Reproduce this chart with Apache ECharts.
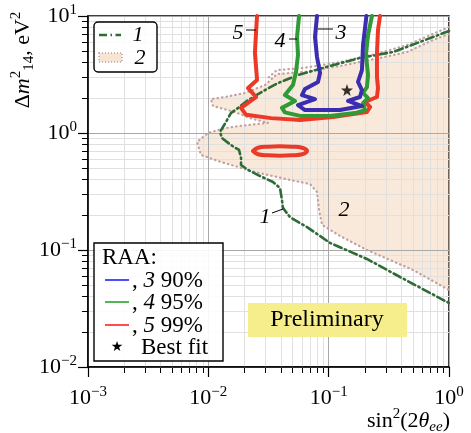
<!DOCTYPE html>
<html><head><meta charset="utf-8">
<script src="https://cdn.jsdelivr.net/npm/echarts@6/dist/echarts.min.js"></script>
<style>html,body{margin:0;padding:0;background:#fff}#c{width:471px;height:433px}</style>
</head><body><div id="c"></div>
<script>
// ---- axis ticks ----
const xMajor = [0.001, 0.01, 0.1, 1];
const yMajor = [0.01, 0.1, 1, 10];
const xMinor = [0.002,0.003,0.004,0.005,0.006,0.007,0.008,0.009,0.02,0.03,0.04,0.05,0.06,0.07,0.08,0.09,0.2,0.3,0.4,0.5,0.6,0.7,0.8,0.9];
const yMinor = [0.02,0.03,0.04,0.05,0.06,0.07,0.08,0.09,0.2,0.3,0.4,0.5,0.6,0.7,0.8,0.9,2,3,4,5,6,7,8,9];

// ---- data: [sin^2(2theta_ee), dm^2_14] ----
const curve1 = [[1.0,7.44],[0.736,6.61],[0.343,4.92],[0.182,4.38],[0.1026,3.74],[0.0556,3.13],[0.0379,2.67],[0.0296,2.33],[0.0214,1.91],[0.0177,1.64],[0.0154,1.48],[0.0140,1.24],[0.01324,1.125],[0.0125,1.02],[0.0130,0.906],[0.0154,0.789],[0.0180,0.716],[0.0187,0.611],[0.0187,0.533],[0.0214,0.483],[0.0259,0.437],[0.0345,0.381],[0.0394,0.339],[0.0409,0.268],[0.0417,0.229],[0.0477,0.191],[0.0578,0.170],[0.0661,0.157],[0.1026,0.115],[0.208,0.0838],[0.392,0.0588],[1.0,0.0352]];
const region2 = [[1.0,7.02],[0.736,6.23],[0.448,4.92],[0.267,4.38],[0.124,3.74],[0.0613,3.32],[0.0372,3.19],[0.0296,2.57],[0.0202,2.20],[0.01375,2.03],[0.01052,1.95],[0.01094,1.70],[0.01666,1.51],[0.0222,1.34],[0.0313,1.22],[0.0183,1.15],[0.01375,1.10],[0.00994,1.0],[0.00805,0.838],[0.00869,0.649],[0.01274,0.565],[0.0244,0.464],[0.0477,0.397],[0.0700,0.366],[0.080,0.313],[0.0832,0.220],[0.0881,0.164],[0.124,0.132],[0.208,0.1],[0.502,0.0675],[1.0,0.0455]];
const region2Upper = [[1.0,8.05],[0.736,7.02],[0.448,5.65],[0.267,4.83],[0.124,4.04],[0.0613,3.59],[0.0372,3.45],[0.0313,2.95]];
const raa99 = [[0.0254,10],[0.0249,7.16],[0.0244,4.83],[0.0254,2.84],[0.0214,2.42],[0.0249,2.03],[0.0187,1.64],[0.0206,1.43],[0.0332,1.34],[0.0578,1.29],[0.1086,1.37],[0.208,1.51],[0.221,1.67],[0.2004,1.84],[0.252,2.03],[0.257,2.42],[0.252,3.01],[0.252,4.83],[0.257,7.59],[0.267,10]];
const raa99Island = [[0.0235,0.702],[0.0259,0.748],[0.0313,0.764],[0.0394,0.771],[0.0496,0.764],[0.0600,0.748],[0.0661,0.702],[0.0600,0.658],[0.0496,0.645],[0.0394,0.639],[0.0313,0.645],[0.0259,0.658],[0.0235,0.702]];
const raa95 = [[0.0567,10],[0.0546,6.61],[0.0556,4.64],[0.0535,3.32],[0.0505,2.57],[0.0433,2.11],[0.0525,1.88],[0.0409,1.64],[0.0433,1.50],[0.0578,1.40],[0.1026,1.40],[0.1656,1.48],[0.2004,1.57],[0.193,1.80],[0.2124,1.99],[0.193,2.20],[0.208,2.47],[0.2124,3.13],[0.204,4.64],[0.2124,6.88],[0.229,10]];
const raa90 = [[0.080,10],[0.0770,6.61],[0.080,4.46],[0.0848,3.26],[0.0815,2.73],[0.0636,2.38],[0.0600,2.11],[0.0770,1.95],[0.0556,1.73],[0.0636,1.57],[0.124,1.57],[0.189,1.70],[0.145,1.88],[0.182,2.03],[0.189,2.33],[0.1754,2.73],[0.189,3.45],[0.193,5.65],[0.206,10]];
const bestFit = [[0.142, 2.33]];

// ---- styles ----
const SERIF = '"Liberation Serif", "DejaVu Serif", serif';
const C_DASHDOT = '#2f6b35';
const C_DOT = '#c2a0a0';
const C_BLUE = '#3a2db0', C_GREEN = '#2f9a36', C_RED = '#ec3a28';
function F(size, italic) { return (italic ? 'italic ' : '') + size + 'px ' + SERIF; }

const richTick = {
  b: {fontFamily: SERIF, fontSize: 22, color: '#000', lineHeight: 26},
  s: {fontFamily: SERIF, fontSize: 15, color: '#000', lineHeight: 15, verticalAlign: 'top'}
};
function powFmt(v) {
  const e = Math.round(Math.log10(v));
  return '{b|10}{s|' + (e < 0 ? '\u2212' + (-e) : e) + '}';
}
const axLine = {show: true, lineStyle: {color: '#000', width: 1.5}};

function mainAxis(min, max, margin) {
  return {
    type: 'log', logBase: 10, min: min, max: max,
    axisLine: axLine,
    axisTick: {show: true, length: 10, lineStyle: {color: '#000', width: 1.2}},
    axisLabel: {formatter: powFmt, rich: richTick, margin: margin},
    splitLine: {show: true, lineStyle: {color: '#a8a8a8', width: 1}},
    z: 3
  };
}
function minorAxis(min, max, vals, pos) {
  return {
    type: 'log', logBase: 10, min: min, max: max, position: pos,
    axisLine: {show: false},
    axisTick: {show: true, length: 6, customValues: vals, lineStyle: {color: '#000', width: 1}},
    axisLabel: {show: false},
    splitLine: {show: true, lineStyle: {color: '#e0e0e0', width: 1}},
    z: 2
  };
}

const xa = mainAxis(0.001, 1, 18); xa.position = 'bottom';
const ya = mainAxis(0.01, 10, 11); ya.position = 'left';

function lineSeries(data, color, width, dash, z) {
  return {type: 'line', data: data, showSymbol: false, symbol: 'none', z: z, silent: true,
    lineStyle: {color: color, width: width, type: dash || 'solid', cap: 'round', join: 'round'}};
}
function txt(x, y, s, size, italic, align, z) {
  return {type: 'text', x: x, y: y, z: z || 21, style: {text: s, font: F(size, italic), fill: '#000', align: align || 'center', verticalAlign: 'middle'}};
}
function richTxt(x, y, s, rich, align, z, rot) {
  const e = {type: 'text', x: x, y: y, z: z || 23, style: {text: s, rich: rich, font: F(22), fill: '#000', align: align, verticalAlign: 'middle'}};
  if (rot) e.rotation = rot;
  return e;
}
const legRich = {n: {font: F(23)}, i: {font: F(23, true)}};
const titleRich = {
  r: {font: F(22), lineHeight: 28}, i: {font: F(22, true), lineHeight: 28},
  sp: {font: F(15), lineHeight: 16, verticalAlign: 'top'},
  sb: {font: F(15), lineHeight: 16, verticalAlign: 'bottom'},
  sbi: {font: F(15, true), lineHeight: 16, verticalAlign: 'bottom'}
};

const option = {
  animation: false,
  grid: {left: 88, right: 22, top: 16, bottom: 66, show: true, borderColor: '#000', borderWidth: 1.5, backgroundColor: 'transparent'},
  xAxis: [xa, minorAxis(0.001, 1, xMinor, 'bottom')],
  yAxis: [ya, minorAxis(0.01, 10, yMinor, 'left')],
  series: [
    {type: 'custom', coordinateSystem: 'cartesian2d', data: region2, clip: true, z: 1, silent: true,
      encode: {x: 0, y: 1},
      renderItem: function (params, api) {
        if (params.dataIndex !== 0) return;
        const pts = region2.map(function (p) { return api.coord(p); });
        return {type: 'polygon', shape: {points: pts}, style: {fill: 'rgba(236,182,132,0.30)'}};
      }},
    lineSeries(region2, C_DOT, 2.2, [0.5, 4], 4),
    lineSeries(region2Upper, C_DOT, 2.2, [0.5, 4], 4),
    lineSeries(curve1, C_DASHDOT, 2.6, [8, 3.5, 1.5, 3.5], 5),
    lineSeries(raa99, C_RED, 4, null, 6),
    Object.assign(lineSeries(raa99Island, C_RED, 4, null, 6), {smooth: 0.4}),
    lineSeries(raa95, C_GREEN, 4, null, 7),
    lineSeries(raa90, C_BLUE, 4, null, 8),
    {type: 'scatter', data: bestFit, z: 9, silent: true,
      symbol: 'path://M0,-10L2.35,-3.24L9.51,-3.09L3.8,1.24L5.88,8.09L0,4L-5.88,8.09L-3.8,1.24L-9.51,-3.09L-2.35,-3.24Z',
      symbolSize: 12, itemStyle: {color: '#000'}}
  ],
  graphic: {elements: [
    // Preliminary box
    {type: 'rect', shape: {x: 248, y: 303, width: 159, height: 34}, style: {fill: '#f6ee8c'}, z: 20},
    txt(327, 320, 'Preliminary', 24, false),
    // annotations
    txt(238, 33, '5', 22, true),
    {type: 'line', z: 21, shape: {x1: 246, y1: 30, x2: 256, y2: 30}, style: {stroke: '#000', lineWidth: 1}},
    txt(280, 41, '4', 22, true),
    {type: 'line', z: 21, shape: {x1: 289, y1: 39, x2: 297, y2: 39}, style: {stroke: '#000', lineWidth: 1}},
    txt(341, 33, '3', 22, true),
    {type: 'line', z: 21, shape: {x1: 318, y1: 29, x2: 333, y2: 29}, style: {stroke: '#000', lineWidth: 1}},
    txt(265, 217, '1', 22, true),
    {type: 'line', z: 21, shape: {x1: 272, y1: 213, x2: 283, y2: 209}, style: {stroke: '#000', lineWidth: 1}},
    txt(344, 210, '2', 22, true),
    // legend 1
    {type: 'rect', z: 22, shape: {x: 94, y: 22, width: 63, height: 50, r: 4}, style: {fill: 'rgba(255,255,255,0.85)', stroke: '#000', lineWidth: 1.4}},
    {type: 'line', z: 23, shape: {x1: 99, y1: 35, x2: 121, y2: 35}, style: {stroke: C_DASHDOT, lineWidth: 2.5, lineDash: [8, 3.5, 1.5, 3.5]}},
    txt(138, 35, '1', 22, true, 'center', 23),
    {type: 'rect', z: 23, shape: {x: 99, y: 53, width: 23, height: 9}, style: {fill: '#f7e4d2', stroke: C_DOT, lineWidth: 1.6, lineDash: [1, 2]}},
    txt(140, 58, '2', 22, true, 'center', 23),
    // legend 2
    {type: 'rect', z: 22, shape: {x: 94, y: 243, width: 129, height: 118}, style: {fill: 'rgba(255,255,255,0.9)', stroke: '#000', lineWidth: 1.4}},
    txt(102, 258, 'RAA:', 23, false, 'left', 23),
    {type: 'line', z: 23, shape: {x1: 105, y1: 280, x2: 129, y2: 280}, style: {stroke: '#2020ff', lineWidth: 1.6}},
    {type: 'line', z: 23, shape: {x1: 105, y1: 302, x2: 129, y2: 302}, style: {stroke: '#2ca02c', lineWidth: 1.6}},
    {type: 'line', z: 23, shape: {x1: 105, y1: 325, x2: 129, y2: 325}, style: {stroke: '#ff2020', lineWidth: 1.6}},
    richTxt(132, 281, '{n|, }{i|3}{n| 90%}', legRich, 'left'),
    richTxt(132, 303, '{n|, }{i|4}{n| 95%}', legRich, 'left'),
    richTxt(132, 326, '{n|, }{i|5}{n| 99%}', legRich, 'left'),
    {type: 'text', x: 117, y: 347, z: 23, style: {text: '\u2605', font: '14px "DejaVu Sans"', fill: '#000', align: 'center', verticalAlign: 'middle'}},
    txt(141, 348, 'Best fit', 23, false, 'left', 23),
    // axis titles
    richTxt(450, 421, '{r|sin}{sp|2}{r|(2}{i|\u03b8}{sbi|ee}{r|)}', titleRich, 'right'),
    richTxt(23, 60, '{r|\u0394}{i|m}{sp|2}{sb|14}{r|, eV}{sp|2}', titleRich, 'center', 23, Math.PI / 2)
  ]}
};

const chart = echarts.init(document.getElementById('c'), null, {renderer: 'canvas'});
chart.setOption(option);
</script>
</body></html>
